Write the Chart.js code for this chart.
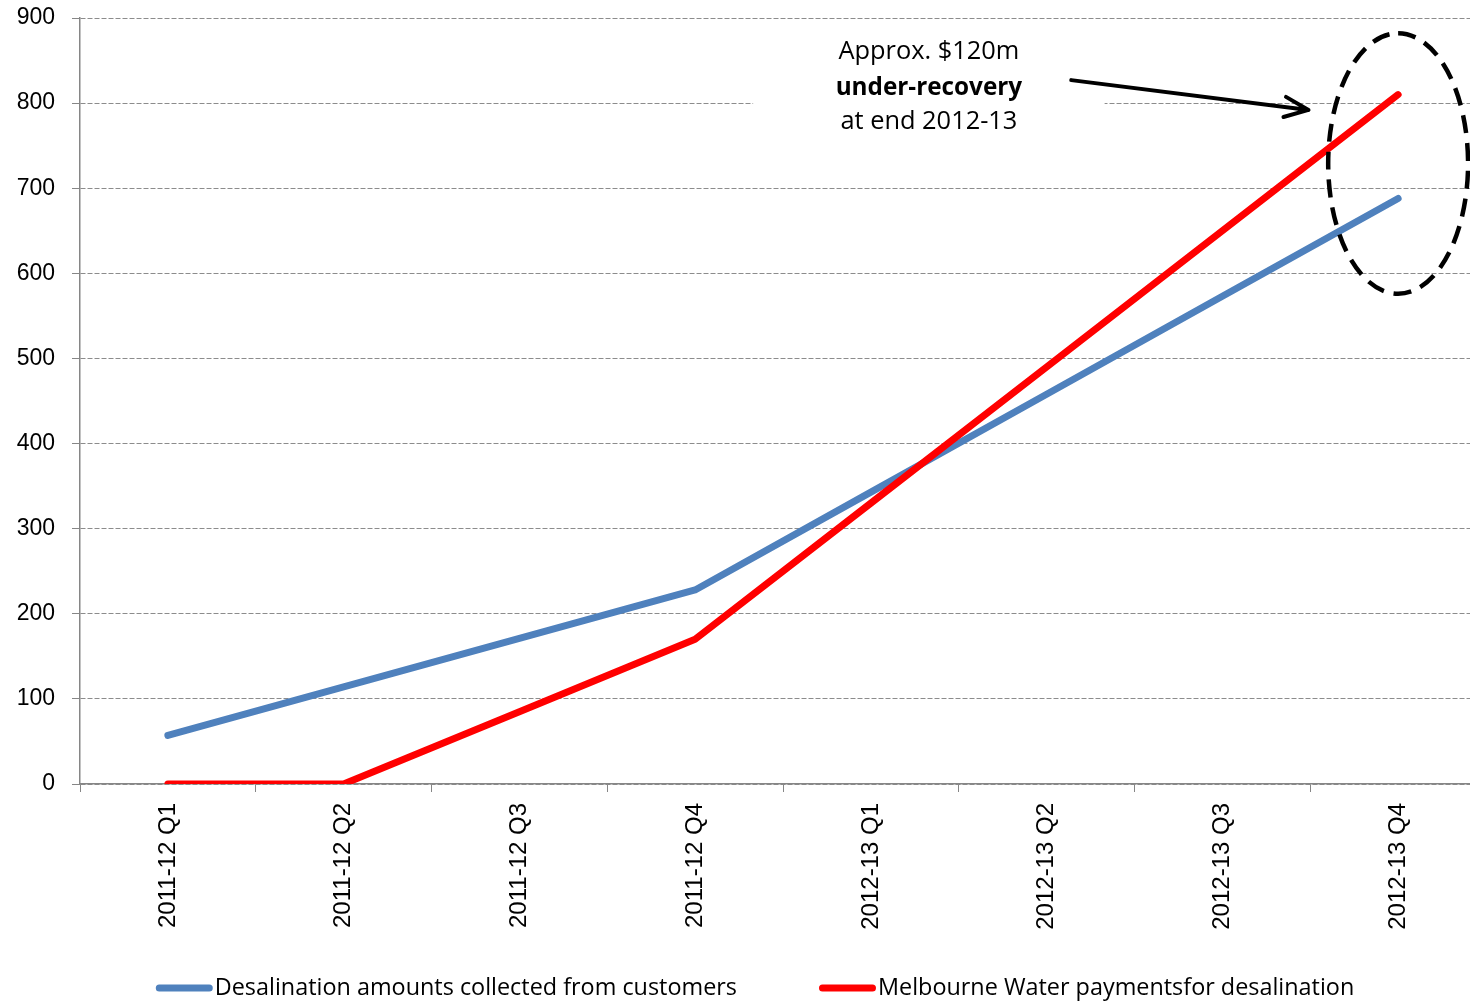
<!DOCTYPE html>
<html>
  <head>
    <title>Desalination under-recovery</title>
    <script src="https://cdn.jsdelivr.net/npm/chart.js"></script>
    <style>
      html, body { margin: 0; padding: 0; overflow: hidden; background: #fff; }
    </style>
  </head>
  <body>
    <canvas id="line-chart" width="1486" height="1005"></canvas>
    <script>
      // Chart data
      const quarters = ["2011-12 Q1", "2011-12 Q2", "2011-12 Q3", "2011-12 Q4",
                        "2012-13 Q1", "2012-13 Q2", "2012-13 Q3", "2012-13 Q4"];
      const collected = [57, 114, 171, 228, 343, 458, 573, 688];
      const payments = [0, 0, 85, 170, 330, 490, 650, 810];
      const yTicks = [0, 100, 200, 300, 400, 500, 600, 700, 800, 900];

      // Annotation (in axis units: category index / value)
      const noteLines = ["Approx. $120m", "under-recovery", "at end 2012-13"];
      const noteX = 4.33;
      const noteY = [860, 818, 778];
      const noteBox = [3.33, 5.33, 880, 750];
      const arrowFrom = [5.14, 827];
      const arrowTo = [6.49, 792];
      const ring = { x: 7, y: 729, rx: 0.398, ry: 153 };

      const axisGrey = "#868686";
      const textFont = "Open Sans";

      // Excel style legend: short round-capped line, text right next to it
      const legendCenterX = 755;
      const legendY = 988;

      const notePlugin = {
        id: "note",
        beforeDatasetsDraw(chart) {
          const { ctx, scales: { x, y } } = chart;
          // white panel behind the text hides the grid line
          const left = x.getPixelForValue(noteBox[0]);
          const right = x.getPixelForValue(noteBox[1]);
          const top = y.getPixelForValue(noteBox[2]);
          const bottom = y.getPixelForValue(noteBox[3]);
          ctx.save();
          ctx.fillStyle = "#fff";
          ctx.fillRect(left, top, right - left, bottom - top);
          ctx.restore();
        },
        afterDatasetsDraw(chart) {
          const { ctx, scales: { x, y } } = chart;
          ctx.save();

          // text
          ctx.fillStyle = "#000";
          ctx.textAlign = "center";
          ctx.textBaseline = "middle";
          noteLines.forEach((line, i) => {
            ctx.font = i === 1 ? "bold 24.3px '" + textFont + "'" : "25.4px '" + textFont + "'";
            ctx.fillText(line, x.getPixelForValue(noteX), y.getPixelForValue(noteY[i]));
          });

          // arrow
          const x1 = x.getPixelForValue(arrowFrom[0]), y1 = y.getPixelForValue(arrowFrom[1]);
          const x2 = x.getPixelForValue(arrowTo[0]), y2 = y.getPixelForValue(arrowTo[1]);
          const ang = Math.atan2(y2 - y1, x2 - x1);
          const head = 26, spread = 0.4;
          ctx.strokeStyle = "#000";
          ctx.lineWidth = 4;
          ctx.lineCap = "round";
          ctx.lineJoin = "round";
          ctx.beginPath();
          ctx.moveTo(x1, y1);
          ctx.lineTo(x2, y2);
          ctx.moveTo(x2 - head * Math.cos(ang - spread), y2 - head * Math.sin(ang - spread));
          ctx.lineTo(x2, y2);
          ctx.lineTo(x2 - head * Math.cos(ang + spread), y2 - head * Math.sin(ang + spread));
          ctx.stroke();

          // dashed ellipse
          const cx = x.getPixelForValue(ring.x), cy = y.getPixelForValue(ring.y);
          const rx = x.getPixelForValue(ring.x + ring.rx) - cx;
          const ry = cy - y.getPixelForValue(ring.y + ring.ry);
          ctx.lineCap = "butt";
          ctx.lineWidth = 4.5;
          ctx.setLineDash([18, 10]);
          ctx.beginPath();
          ctx.ellipse(cx, cy, rx, ry, 0, -Math.PI / 2, Math.PI * 1.5);
          ctx.stroke();
          ctx.restore();
        },
        afterDraw(chart) {
          const ctx = chart.ctx;
          ctx.save();
          ctx.font = "23.4px '" + textFont + "'";
          ctx.textBaseline = "middle";
          ctx.textAlign = "left";
          const swatch = 57, gapText = 2, gapItem = 82;
          const items = chart.data.datasets.map(ds => ({
            text: ds.label, color: ds.borderColor, width: ctx.measureText(ds.label).width
          }));
          const total = items.reduce((s, it) => s + swatch + gapText + it.width, 0) + gapItem * (items.length - 1);
          let cx = legendCenterX - total / 2;
          items.forEach(it => {
            ctx.strokeStyle = it.color;
            ctx.lineWidth = 7;
            ctx.lineCap = "round";
            ctx.beginPath();
            ctx.moveTo(cx + 3.5, legendY);
            ctx.lineTo(cx + swatch - 3.5, legendY);
            ctx.stroke();
            ctx.fillStyle = "#000";
            ctx.fillText(it.text, cx + swatch + gapText, legendY);
            cx += swatch + gapText + it.width + gapItem;
          });
          ctx.restore();
        }
      };

      const ctx = document.getElementById("line-chart").getContext("2d");
      new Chart(ctx, {
        type: "line",
        data: {
          labels: quarters,
          datasets: [
            {
              label: "Desalination amounts collected from customers",
              data: collected,
              borderColor: "#4F81BD",
              backgroundColor: "#4F81BD",
              borderWidth: 7,
              borderCapStyle: "round",
              borderJoinStyle: "round",
              pointRadius: 0,
              tension: 0,
              order: 1
            },
            {
              label: "Melbourne Water paymentsfor desalination",
              data: payments,
              borderColor: "#FF0000",
              backgroundColor: "#FF0000",
              borderWidth: 7,
              borderCapStyle: "round",
              borderJoinStyle: "round",
              pointRadius: 0,
              tension: 0,
              order: 0
            }
          ]
        },
        options: {
          responsive: false,
          animation: false,
          layout: { padding: { left: 0, top: 18, right: 0, bottom: 70 } },
          plugins: {
            tooltip: { enabled: false },
            legend: { display: false }
          },
          scales: {
            x: {
              offset: true,
              afterFit: s => { s.height = 151; },
              grid: {
                offset: true,
                drawOnChartArea: false,
                tickLength: 8,
                color: axisGrey
              },
              border: { color: axisGrey, width: 1.5 },
              ticks: {
                minRotation: 90,
                maxRotation: 90,
                autoSkip: false,
                padding: 11,
                color: "#000",
                font: { family: "Liberation Sans", size: 24 }
              }
            },
            y: {
              min: 0,
              max: 900,
              afterFit: s => { s.width = 80; s.paddingTop = 0; s.paddingBottom = 0; },
              afterBuildTicks: s => { s.ticks = yTicks.map(v => ({ value: v })); },
              grid: {
                color: "#8c8c8c",
                tickColor: axisGrey,
                tickLength: 8,
                lineWidth: 1
              },
              border: { color: axisGrey, width: 1.5, dash: [5, 2] },
              ticks: {
                padding: 17,
                color: "#000",
                font: { family: "Liberation Sans", size: 23 }
              }
            }
          }
        },
        plugins: [notePlugin]
      });
    </script>
  </body>
</html>
